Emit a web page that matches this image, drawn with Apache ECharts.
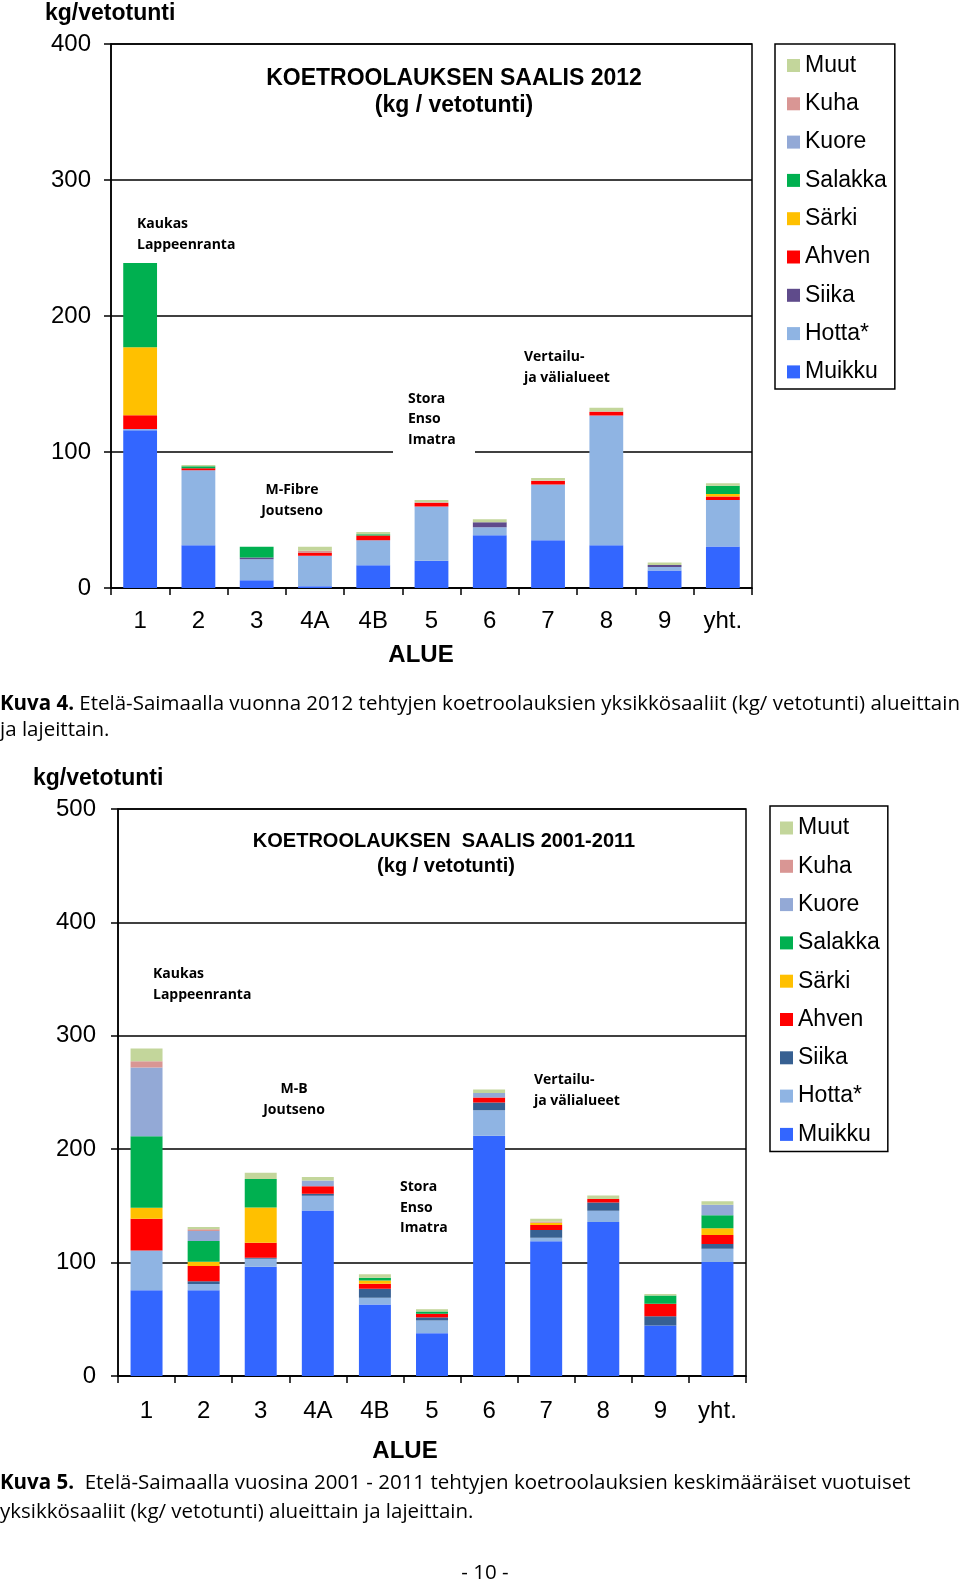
<!DOCTYPE html>
<html><head><meta charset="utf-8">
<script src="https://cdn.jsdelivr.net/npm/echarts@6/dist/echarts.min.js"></script>
<style>
html,body{margin:0;padding:0;background:#fff;}
.c{position:absolute;left:0;top:0;width:960px;height:1582px;}
</style></head>
<body>
<div id="c1" class="c"></div>
<div id="c2" class="c"></div>
<script>
// ---- categories ----
const categories = ['1','2','3','4A','4B','5','6','7','8','9','yht.'];
const legendOrder = ['Muut','Kuha','Kuore','Salakka','Särki','Ahven','Siika','Hotta*','Muikku'];
const yTicks2012 = [0,100,200,300,400];
const yTicks0111 = [0,100,200,300,400,500];

// ---- 2012 catch (kg/vetotunti) ----
const muikku2012  = [116, 31.5, 5.7, 1.2, 16.7, 20, 38.7, 35.2, 31.5, 12.8, 30.5];
const hotta2012   = [1, 55, 15.5, 22.5, 18.5, 40, 5.9, 40.9, 95.3, 2.7, 34.2];
const siika2012   = [0, 0, 1.2, 0, 0, 0, 3.7, 0, 0, 1.5, 0];
const ahven2012   = [10, 1.5, 0, 2, 3.4, 2.5, 0, 2.5, 2.7, 0, 2.5];
const sarki2012   = [50, 0, 0, 0, 0, 0, 0, 0, 0, 0, 2];
const salakka2012 = [62, 1.5, 7.9, 0, 1, 0, 0, 0, 0, 0, 5.9];
const kuore2012   = [0, 0, 0, 0, 0, 0, 0, 0, 0, 0, 0];
const kuha2012    = [0, 0, 0, 1.7, 0, 0.5, 0, 0.5, 0.5, 0, 0];
const muut2012    = [0, 1, 0, 3, 1.5, 1.7, 2.2, 1.7, 2.5, 1.7, 2];

// ---- 2001-2011 mean catch (kg/vetotunti) ----
const muikku0111  = [75.6, 75.6, 96.3, 146, 63, 37.8, 211.9, 118.8, 135.9, 44.6, 100.5];
const hotta0111   = [35, 5.6, 7, 13, 5.9, 11.2, 22.5, 3.2, 9.8, 0, 11.8];
const siika0111   = [0, 2.4, 1, 1.8, 8, 2.7, 6.8, 6.8, 7.4, 8, 4.1];
const ahven0111   = [28, 13.3, 13.3, 6.5, 4.4, 3.2, 4.4, 4.4, 3, 11.2, 8];
const sarki0111   = [9.8, 3.8, 31, 0, 3, 0, 0, 2, 0, 0, 5.9];
const salakka0111 = [63, 18.3, 25.1, 0, 2.4, 2, 0, 0, 0, 7.1, 11.5];
const kuore0111   = [60.6, 8.9, 0, 5, 0, 0, 4, 0, 0, 0, 9.2];
const kuha0111    = [5.6, 1.5, 0, 0, 0, 0, 0, 1, 0, 0, 0];
const muut0111    = [11.2, 2, 5.6, 3.2, 3, 2, 3, 2.4, 3, 1.5, 3.2];

const COL = {
  'Muut':'#c3d69b','Kuha':'#d99694','Kuore':'#93a9d6','Salakka':'#00b050','Särki':'#ffc000',
  'Ahven':'#ff0000','Hotta*':'#8fb4e3','Muikku':'#3366ff'
};
const AR = 'Liberation Sans, Arial, sans-serif';
const CAL = '"Open Sans", sans-serif';

function mkSeries(list, siikaColor, barW){
  return list.map(([name,data])=>({
    name, type:'bar', stack:'s', data, barWidth:barW,
    itemStyle:{color: name==='Siika'?siikaColor:COL[name]},
    emphasis:{disabled:true}, animation:false
  }));
}

function baseOption(o){
  return {
    animation:false,
    grid:{left:o.left, right:960-o.right, top:o.top, bottom:1582-o.bottom, show:true,
          borderColor:'#000', borderWidth:1.5, backgroundColor:'transparent'},
    legend:{orient:'vertical', left:o.lgLeft, top:o.lgTop, data:legendOrder,
      itemWidth:13, itemHeight:13, itemGap:14.3, icon:'rect',
      padding:o.lgPad, borderColor:'#000', borderWidth:1.5, backgroundColor:'#fff',
      selectedMode:false,
      textStyle:{fontFamily:AR, fontSize:23, color:'#000', lineHeight:24}},
    xAxis:{type:'category', data:categories,
      axisLine:{lineStyle:{color:'#000', width:1.5}},
      axisTick:{show:true, length:7, lineStyle:{color:'#000', width:1.5}},
      axisLabel:{fontFamily:AR, fontSize:24, color:'#000', margin:o.xMargin}},
    yAxis:{type:'value', min:0, max:o.max, interval:100,
      axisLine:{show:true, lineStyle:{color:'#000', width:1.5}},
      axisTick:{show:true, length:7, lineStyle:{color:'#000', width:1.5}},
      axisLabel:{fontFamily:AR, fontSize:24, color:'#000', margin:o.yMargin,
        formatter:v=>String(o.ticks[o.ticks.indexOf(v)])},
      splitLine:{show:true, lineStyle:{color:'#000', width:1.5}}},
  };
}

function txt(text, x, y, font, align, lh, extra){
  return Object.assign({type:'text', z:5, style:{text, x, y, font, fill:'#000',
    textAlign:align||'left', textVerticalAlign:'middle', lineHeight:lh||20}}, extra||{});
}

const CF = '20.5px ';

// ---------- Chart 1 (2012) ----------
const c1 = echarts.init(document.getElementById('c1'), null, {renderer:'canvas'});
const opt1 = baseOption({left:111, right:752, top:44, bottom:588, max:400, ticks:yTicks2012,
  lgLeft:775, lgTop:44, lgPad:[9.5,8,5,12], xMargin:21, yMargin:20});
opt1.series = mkSeries([
  ['Muikku',muikku2012],['Hotta*',hotta2012],['Siika',siika2012],['Ahven',ahven2012],
  ['Särki',sarki2012],['Salakka',salakka2012],['Kuore',kuore2012],['Kuha',kuha2012],['Muut',muut2012]
], '#5f4b8b', '58%');
opt1.graphic = [
  txt('kg/vetotunti', 45, 14, 'bold 23px '+AR, 'left'),
  txt('KOETROOLAUKSEN SAALIS 2012', 454, 79, 'bold 23px '+AR, 'center'),
  txt('(kg / vetotunti)', 454, 106, 'bold 23px '+AR, 'center'),
  txt('Kaukas\nLappeenranta', 137, 234.5, 'bold 14px '+CAL, 'left', 21),
  txt('M-Fibre\nJoutseno', 292, 501, 'bold 14px '+CAL, 'center', 21),
  {type:'rect', z:1, shape:{x:393, y:386, width:82, height:68}, style:{fill:'#fff'}},
  txt('Stora\nEnso\nImatra', 408, 419.5, 'bold 14px '+CAL, 'left', 20.5),
  txt('Vertailu-\nja välialueet', 524, 368, 'bold 14px '+CAL, 'left', 21),
  txt('ALUE', 421, 655.5, 'bold 24px '+AR, 'center'),
  {type:'text', z:5, style:{x:0, y:704, textVerticalAlign:'middle', fill:'#000',
    text:'{b|Kuva 4.} Etelä-Saimaalla vuonna 2012 tehtyjen koetroolauksien yksikkösaaliit (kg/ vetotunti) alueittain',
    font:CF+CAL, rich:{b:{font:'bold '+CF+CAL}}}},
  txt('ja lajeittain.', 0, 730, CF+CAL, 'left'),
  txt('- 10 -', 485, 1573, CF+CAL, 'center'),
];
c1.setOption(opt1);

// ---------- Chart 2 (2001-2011) ----------
const c2 = echarts.init(document.getElementById('c2'), null, {renderer:'canvas'});
const opt2 = baseOption({left:118, right:746, top:809, bottom:1376, max:500, ticks:yTicks0111,
  lgLeft:770, lgTop:806, lgPad:[10,8,5,10], xMargin:23, yMargin:22});
opt2.series = mkSeries([
  ['Muikku',muikku0111],['Hotta*',hotta0111],['Siika',siika0111],['Ahven',ahven0111],
  ['Särki',sarki0111],['Salakka',salakka0111],['Kuore',kuore0111],['Kuha',kuha0111],['Muut',muut0111]
], '#376092', '56%');
opt2.graphic = [
  txt('kg/vetotunti', 33, 778.5, 'bold 23px '+AR, 'left'),
  txt('KOETROOLAUKSEN  SAALIS 2001-2011', 444, 841, 'bold 20px '+AR, 'center'),
  txt('(kg / vetotunti)', 446, 866, 'bold 20px '+AR, 'center'),
  txt('Kaukas\nLappeenranta', 153, 984.5, 'bold 14px '+CAL, 'left', 20.5),
  txt('M-B\nJoutseno', 294, 1100, 'bold 14px '+CAL, 'center', 21),
  txt('Stora\nEnso\nImatra', 400, 1208, 'bold 14px '+CAL, 'left', 20.5),
  txt('Vertailu-\nja välialueet', 534, 1091, 'bold 14px '+CAL, 'left', 21),
  txt('ALUE', 405, 1451, 'bold 24px '+AR, 'center'),
  {type:'text', z:5, style:{x:0, y:1483, textVerticalAlign:'middle', fill:'#000',
    text:'{b|Kuva 5.}  Etelä-Saimaalla vuosina 2001 - 2011 tehtyjen koetroolauksien keskimääräiset vuotuiset',
    font:CF+CAL, rich:{b:{font:'bold '+CF+CAL}}}},
  txt('yksikkösaaliit (kg/ vetotunti) alueittain ja lajeittain.', 0, 1512, CF+CAL, 'left'),
];
c2.setOption(opt2);
</script>
</body></html>
